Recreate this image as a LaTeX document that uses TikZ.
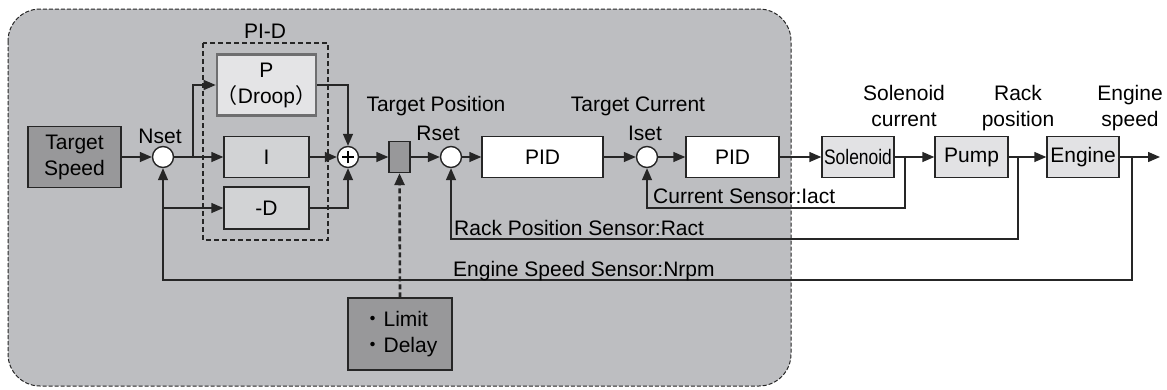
\documentclass[tikz,border=0pt]{standalone}
\usepackage{fontspec}
\setmainfont{Liberation Sans}
\newfontfamily\jp{Noto Sans CJK JP}
\usepackage{graphicx}
\usetikzlibrary{arrows.meta}
\definecolor{bgc}{HTML}{BDBEC1}
\definecolor{darkbox}{HTML}{98989A}
\definecolor{midbox}{HTML}{D2D3D5}
\definecolor{lightbox}{HTML}{E4E4E6}
\definecolor{plantbox}{HTML}{E2E2E4}
\definecolor{pborder}{HTML}{6E6E70}
\begin{document}
\begin{tikzpicture}[x=1pt,y=-1pt,
  font=\fontsize{21}{26}\selectfont,
  box/.style={draw=black!85, line width=1.4pt, inner sep=0pt, align=center},
  sumc/.style={circle, draw=black!85, fill=white, line width=1.4pt, minimum size=21pt, inner sep=0pt},
  arr/.style={line width=1.4pt, draw=black!85, -{Triangle[length=12pt,width=10pt]}},
  ln/.style={line width=1.4pt, draw=black!85},
  lbl/.style={inner sep=0pt}]
\useasboundingbox (0,0) rectangle (1167,389);
% background
\path[fill=bgc, draw=black!85, line width=1pt, dash pattern=on 4pt off 2pt, rounded corners=32pt]
  (8,9) rectangle (791,386);
% PI-D frame
\draw[line width=2.6pt, draw=black!85, dash pattern=on 5pt off 3pt] (203,43) rectangle (328,240);
% blocks
\node[box, fill=darkbox, minimum width=93pt, minimum height=61pt] (ts) at (74.5,157) {Target\\Speed};
\node[sumc] (nset) at (163,157) {};
\node[box, fill=lightbox, draw=pborder, line width=2.5pt, minimum width=84pt, minimum height=61pt] (P) at (266.5,85) {P\\{\jp （}Droop{\jp ）}};
\node[box, fill=midbox, minimum width=85pt, minimum height=41pt] (I) at (266.5,157) {I};
\node[box, fill=midbox, minimum width=85pt, minimum height=42pt] (D) at (266.5,208) {-D};
\node[sumc] (sum) at (348,157) {};
\draw[line width=1.4pt] ([xshift=-6pt]sum.center) -- ([xshift=6pt]sum.center);
\draw[line width=1.4pt] ([yshift=-6pt]sum.center) -- ([yshift=6pt]sum.center);
\node[box, fill=darkbox, minimum width=21pt, minimum height=31pt] (sb) at (399.5,157) {};
\node[box, fill=darkbox, minimum width=104pt, minimum height=72pt, align=left] (lim) at (400,334) {{\jp ・}Limit\\{\jp ・}Delay};
\node[sumc] (rset) at (451,157) {};
\node[box, fill=white, minimum width=121pt, minimum height=41pt] (pid1) at (542.5,157) {PID};
\node[sumc] (iset) at (647,157) {};
\node[box, fill=white, minimum width=93pt, minimum height=41pt] (pid2) at (732.5,157) {PID};
\node[box, fill=plantbox, minimum width=72pt, minimum height=41pt] (sol) at (858,157) {\scalebox{0.83}[1]{Solenoid}};
\node[box, fill=plantbox, minimum width=73pt, minimum height=41pt] (pump) at (971.5,157) {Pump};
\node[box, fill=plantbox, minimum width=72pt, minimum height=41pt] (eng) at (1083,157) {Engine};
% coordinates
\coordinate (b1) at (193,157);
\coordinate (c1) at (905,157);
\coordinate (c2) at (1018,157);
\coordinate (c3) at (1132,157);
\coordinate (f1) at (905,208);
\coordinate (f2) at (1018,239);
\coordinate (f3) at (1132,280);
\coordinate (d1) at (163,208);
\coordinate (out) at (1160,157);
% connectors
\draw[arr] (ts.east) -- (nset.west);
\draw[ln] (nset.east) -- (b1);
\draw[arr] (b1) -- (I.west);
\draw[arr] (b1) |- (P.west);
\draw[arr] (P.east) -| (sum.north);
\draw[arr] (I.east) -- (sum.west);
\draw[arr] (D.east) -| (sum.south);
\draw[arr] (d1) -- (D.west);
\draw[arr] (sum.east) -- (sb.west);
\draw[arr] (sb.east) -- (rset.west);
\draw[arr] (rset.east) -- (pid1.west);
\draw[arr] (pid1.east) -- (iset.west);
\draw[arr] (iset.east) -- (pid2.west);
\draw[arr] (pid2.east) -- (sol.west);
\draw[arr] (sol.east) -- (pump.west);
\draw[arr] (pump.east) -- (eng.west);
\draw[arr] (eng.east) -- (out);
\draw[arr] (c1) -- (f1) -| (iset.south);
\draw[arr] (c2) -- (f2) -| (rset.south);
\draw[arr] (c3) -- (f3) -| (nset.south);
\draw[line width=2.6pt, draw=black!85, dash pattern=on 5pt off 3pt, -{Triangle[length=12pt,width=10pt]}] (lim.north) -- (sb.south);
% labels
\node[lbl, anchor=base] (lpid) at (265,38) {PI-D};
\node[lbl, anchor=base] (lnset) at (160,143) {Nset};
\node[lbl, anchor=base] (ltp) at (436,111) {Target Position};
\node[lbl, anchor=base] (lrset) at (438,140) {Rset};
\node[lbl, anchor=base] (ltc) at (638,111) {Target Current};
\node[lbl, anchor=base] (liset) at (645,140) {Iset};
\node[lbl, anchor=base west] (lcs) at (653,203) {Current Sensor:Iact};
\node[lbl, anchor=base west] (lrs) at (454,235) {Rack Position Sensor:Ract};
\node[lbl, anchor=base west] (lns) at (453,276) {Engine Speed Sensor:Nrpm};
\node[lbl, align=center, anchor=north] (lsc) at (904,85) {Solenoid\\current};
\node[lbl, align=center, anchor=north] (lrp) at (1018,85) {Rack\\position};
\node[lbl, align=center, anchor=north] (lesp) at (1130,85) {Engine\\speed};
\end{tikzpicture}
\end{document}
